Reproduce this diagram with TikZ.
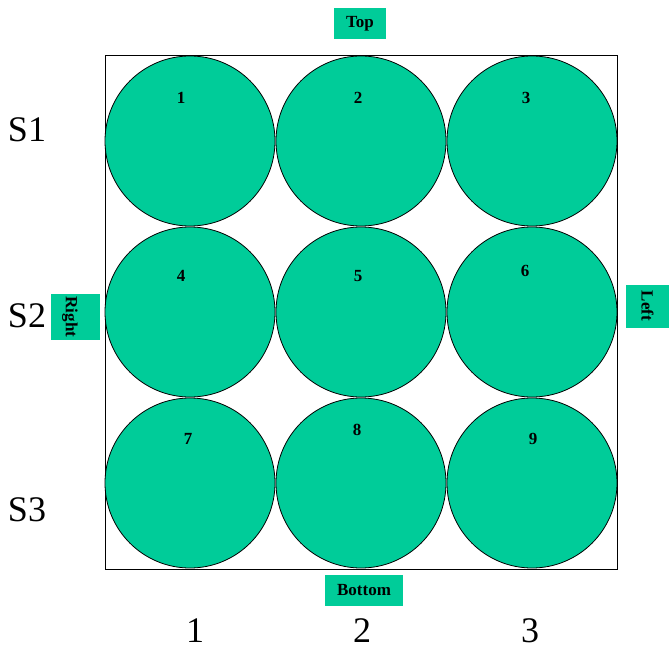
\documentclass[tikz,border=0pt]{standalone}
\usepackage{fontspec}
\setmainfont{Liberation Serif}
\usetikzlibrary{positioning}
\definecolor{cellgreen}{RGB}{0,204,153}

\tikzset{
    cell/.style={circle, draw=black, line width=0.8pt, fill=cellgreen, minimum size=170pt, inner sep=0pt},
    cellnum/.style={font=\bfseries\fontsize{17}{17}\selectfont, inner sep=0pt},
    tagbox/.style={fill=cellgreen, inner sep=0pt},
    tagtext/.style={font=\bfseries\fontsize{17}{17}\selectfont, inner sep=0pt},
    axislabel/.style={font=\fontsize{36}{36}\selectfont, inner sep=0pt}
}

\begin{document}
\begin{tikzpicture}[x=1pt, y=1pt]
    \useasboundingbox (0,0) rectangle (672,-647);

    % Frame
    \draw[line width=0.8pt] (105,-55) rectangle (617,-569);

    % Cells
    \foreach \n/\cx/\cy in {1/190/141, 2/361/141, 3/532/141,
                            4/190/312, 5/361/312, 6/532/312,
                            7/190/483, 8/361/483, 9/532/483}
        \node[cell] (c\n) at (\cx,-\cy) {};

    % Cell numbers
    \foreach \n/\tx/\ty in {1/181/98, 2/358/98, 3/526/98,
                            4/181/276, 5/358/276, 6/525/271,
                            7/188/439, 8/357/430, 9/533/439}
        \node[cellnum] (n\n) at (\tx,-\ty) {\n};

    % Side tags
    \node[tagbox, minimum width=52pt, minimum height=31pt] (top) at (360,-23.5) {};
    \node[tagtext] (toptxt) at (top.center) {Top};
    \node[tagbox, minimum width=78pt, minimum height=31pt] (bottom) at (364,-590.5) {};
    \node[tagtext] (bottomtxt) at (bottom.center) {Bottom};
    \node[tagbox, minimum width=49pt, minimum height=46pt] (right) at (75.5,-317) {};
    \node[tagtext, rotate=-90] (righttxt) at (70,-317) {Right};
    \node[tagbox, minimum width=43pt, minimum height=43pt] (left) at (647.5,-306) {};
    \node[tagtext, rotate=-90] (lefttxt) at (left.center) {Left};

    % Row and column labels
    \foreach \s/\ly in {1/130, 2/316, 3/510}
        \node[axislabel] (s\s) at (27,-\ly) {S\s};
    \foreach \k/\lx in {1/195, 2/362, 3/530}
        \node[axislabel] (k\k) at (\lx,-630.5) {\k};
\end{tikzpicture}
\end{document}
